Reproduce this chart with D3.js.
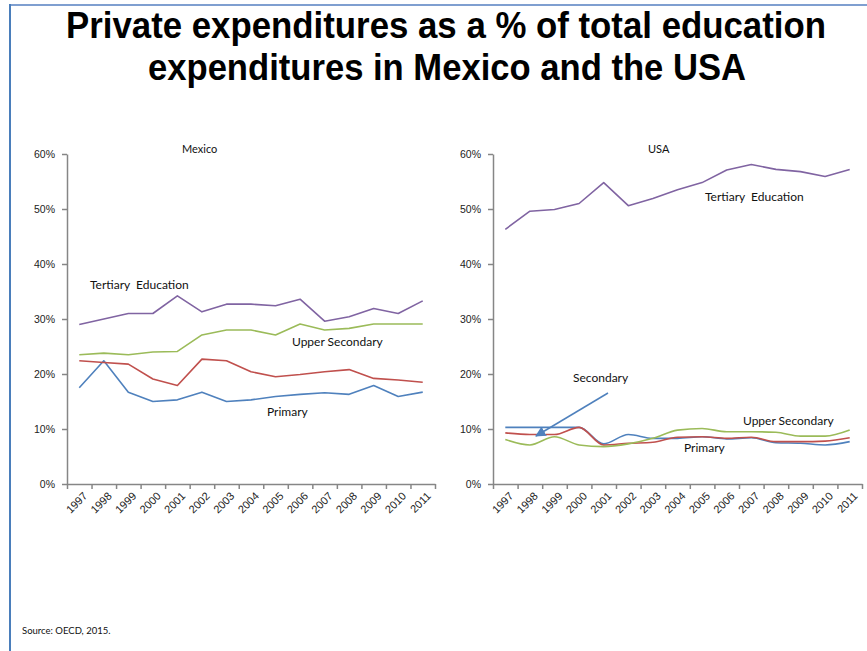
<!DOCTYPE html>
<html lang="en">
<head>
    <meta charset="UTF-8">
    <title>Private expenditures Mexico USA</title>
    <script src="https://cdn.jsdelivr.net/npm/d3@7"></script>
    <style>
        body { margin: 0; background: white; }
        svg { display: block; }
        .title { font-family: "Liberation Sans", Arial, sans-serif; font-weight: bold; font-size: 36px; fill: #000; }
        .axis path, .axis line { stroke: #868686; stroke-width: 1.5; }
        .axis text { font-family: "Liberation Sans", Arial, sans-serif; font-size: 10.5px; fill: #222; }
        .note { font-family: Lato, "Open Sans", sans-serif; font-size: 12px; fill: #111; }
        .source { font-family: Lato, "Open Sans", sans-serif; font-size: 9.5px; fill: #111; }
    </style>
</head>
<body>
<script>
    // categories
    const years = ["1997", "1998", "1999", "2000", "2001", "2002", "2003", "2004",
        "2005", "2006", "2007", "2008", "2009", "2010", "2011"];
    const yTicks = [0, 10, 20, 30, 40, 50, 60];

    // Mexico series (%)
    const mexTertiary = [29.0, 30.0, 31.0, 31.0, 34.2, 31.3, 32.7, 32.7, 32.4, 33.6, 29.6, 30.4, 31.9, 31.0, 33.3];
    const mexUpperSec = [23.5, 23.8, 23.5, 24.0, 24.1, 27.1, 28.0, 28.0, 27.1, 29.1, 28.0, 28.3, 29.1, 29.1, 29.1];
    const mexSecondary = [22.4, 22.1, 21.8, 19.1, 17.9, 22.7, 22.4, 20.4, 19.5, 19.9, 20.4, 20.8, 19.2, 18.9, 18.5];
    const mexPrimary = [17.5, 22.4, 16.7, 15.0, 15.3, 16.7, 15.0, 15.3, 15.9, 16.3, 16.6, 16.3, 17.9, 15.9, 16.7];

    // USA series (%)
    const usaTertiary = [46.3, 49.6, 49.9, 51.0, 54.8, 50.6, 51.9, 53.5, 54.8, 57.1, 58.1, 57.2, 56.8, 55.9, 57.2];
    const usaUpperSec = [8.1, 7.1, 8.6, 7.1, 6.8, 7.3, 8.3, 9.8, 10.1, 9.5, 9.5, 9.4, 8.7, 8.7, 9.8];
    const usaSecondary = [9.3, 9.0, 9.0, 10.3, 7.1, 7.4, 7.6, 8.5, 8.6, 8.3, 8.5, 7.7, 7.7, 7.8, 8.4];
    const usaPrimary = [10.3, 10.3, 10.3, 10.3, 7.3, 9.0, 8.3, 8.3, 8.6, 8.2, 8.4, 7.5, 7.4, 7.1, 7.7];

    const colors = { tertiary: "#8064a2", upper: "#9bbb59", secondary: "#c0504d", primary: "#4f81bd" };

    const width = 867, height = 651;
    const svg = d3.select("body").append("svg")
        .attr("width", width).attr("height", height);

    // frame
    svg.append("line").attr("x1", 10).attr("x2", width).attr("y1", 5).attr("y2", 5)
        .attr("stroke", "#7f9fd0").attr("stroke-width", 2);
    svg.append("line").attr("x1", 10).attr("x2", 10).attr("y1", 4).attr("y2", height)
        .attr("stroke", "#4a7ebb").attr("stroke-width", 2);

    // title
    svg.append("text").attr("class", "title").attr("x", 446).attr("y", 38)
        .attr("text-anchor", "middle").attr("textLength", 760).attr("lengthAdjust", "spacingAndGlyphs")
        .text("Private expenditures as a % of total education");
    svg.append("text").attr("class", "title").attr("x", 447).attr("y", 80)
        .attr("text-anchor", "middle").attr("textLength", 598).attr("lengthAdjust", "spacingAndGlyphs")
        .text("expenditures in Mexico and the USA");

    svg.append("text").attr("class", "source").attr("x", 22).attr("y", 634)
        .text("Source: OECD, 2015.");

    const y = d3.scaleLinear().domain([0, 60]).range([484, 154]);

    function panel(x0, x1, series, name, nameX) {
        const g = svg.append("g");
        const xEdge = d3.scaleLinear().domain([0, years.length]).range([x0, x1]);
        const x = d3.scalePoint().domain(years).range([xEdge(0.5), xEdge(years.length - 0.5)]);

        g.append("g").attr("class", "axis")
            .attr("transform", `translate(${x0},0)`)
            .call(d3.axisLeft(y).tickValues(yTicks).tickFormat(d => d + "%").tickSize(5).tickSizeOuter(0).tickPadding(7));

        g.append("g").attr("class", "axis")
            .attr("transform", `translate(0,${y(0)})`)
            .call(d3.axisBottom(xEdge).tickValues(d3.range(years.length + 1)).tickFormat("").tickSize(5).tickSizeOuter(0));

        g.selectAll(".yr").data(years).enter().append("text")
            .attr("transform", d => `translate(${x(d) + 6},${y(0) + 10}) rotate(-45)`)
            .attr("text-anchor", "end")
            .attr("dy", "0.35em")
            .style("font-family", "'Liberation Sans', Arial, sans-serif")
            .style("font-size", "11px")
            .style("fill", "#222")
            .text(d => d);

        series.forEach(s => {
            const line = d3.line().x((d, i) => x(years[i])).y(d => y(d)).curve(s.curve);
            g.append("path").datum(s.values)
                .attr("fill", "none")
                .attr("stroke", s.color)
                .attr("stroke-width", 1.6)
                .attr("stroke-linejoin", "round")
                .attr("d", line);
        });

        g.append("text").attr("class", "note").attr("x", nameX).attr("y", 153)
            .style("font-size", "11px").text(name);
        return g;
    }

    const lin = d3.curveLinear, smooth = d3.curveMonotoneX;

    panel(67, 435, [
        { values: mexPrimary, color: colors.primary, curve: lin },
        { values: mexSecondary, color: colors.secondary, curve: lin },
        { values: mexUpperSec, color: colors.upper, curve: lin },
        { values: mexTertiary, color: colors.tertiary, curve: lin }
    ], "Mexico", 182);

    panel(493, 862, [
        { values: usaPrimary, color: colors.primary, curve: smooth },
        { values: usaSecondary, color: colors.secondary, curve: smooth },
        { values: usaUpperSec, color: colors.upper, curve: smooth },
        { values: usaTertiary, color: colors.tertiary, curve: lin }
    ], "USA", 648);

    // annotations
    const notes = [
        { t: "Tertiary\u00a0 Education", x: 90, y: 289 },
        { t: "Upper Secondary", x: 292, y: 346 },
        { t: "Primary", x: 267, y: 416 },
        { t: "Tertiary\u00a0 Education", x: 705, y: 201 },
        { t: "Secondary", x: 573, y: 382 },
        { t: "Upper Secondary", x: 743, y: 425 },
        { t: "Primary", x: 684, y: 452 }
    ];
    svg.selectAll(".lbl").data(notes).enter().append("text")
        .attr("class", "note").attr("x", d => d.x).attr("y", d => d.y).text(d => d.t);

    // arrow for "Secondary"
    svg.append("defs").append("marker")
        .attr("id", "arrow").attr("viewBox", "0 0 10 10")
        .attr("refX", 9).attr("refY", 5).attr("markerWidth", 7).attr("markerHeight", 7)
        .attr("orient", "auto")
        .append("path").attr("d", "M0,0 L10,5 L0,10 z").attr("fill", colors.primary);
    svg.append("line")
        .attr("x1", 608).attr("y1", 393).attr("x2", 536).attr("y2", 436)
        .attr("stroke", colors.primary).attr("stroke-width", 1.5)
        .attr("marker-end", "url(#arrow)");
</script>
</body>
</html>
